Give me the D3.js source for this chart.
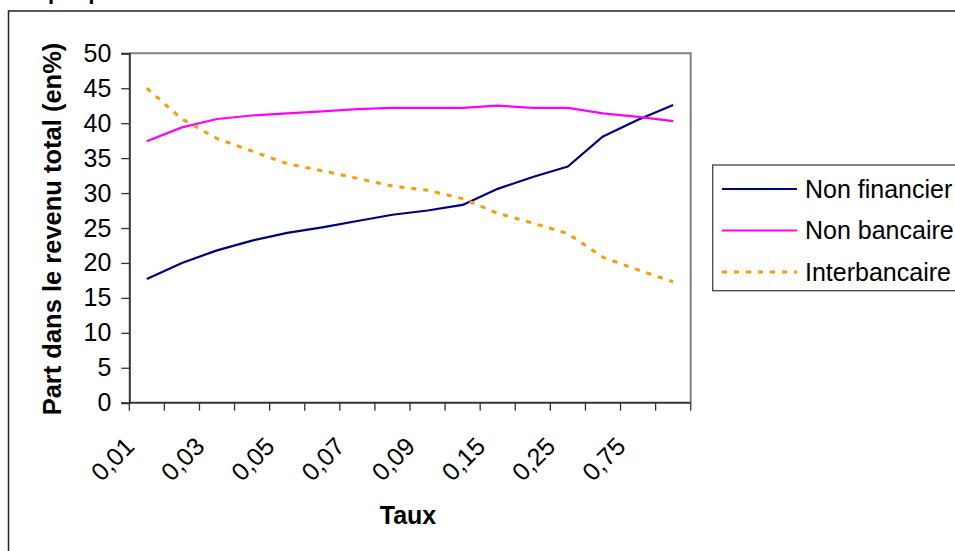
<!DOCTYPE html>
<html>
<head>
<meta charset="utf-8">
<script src="https://cdn.jsdelivr.net/npm/d3@7"></script>
<style>
  html, body { margin: 0; padding: 0; background: #fff; }
  svg { display: block; font-family: Arial, "Liberation Sans", sans-serif; }
</style>
</head>
<body>
<svg id="chart" width="955" height="551"></svg>
<script>
// ---- data ----
const categories = ["0,01","0,02","0,03","0,04","0,05","0,06","0,07","0,08","0,09","0,1","0,15","0,2","0,25","0,5","0,75","1"];
const tickLabels = ["0,01","0,03","0,05","0,07","0,09","0,15","0,25","0,75"];
const yTicks = [0,5,10,15,20,25,30,35,40,45,50];
const nonFinancier = [17.7,20.0,21.8,23.2,24.3,25.1,26.0,26.9,27.5,28.3,30.6,32.3,33.8,38.1,40.5,42.6];
const nonBancaire  = [37.4,39.4,40.6,41.1,41.4,41.7,42.0,42.2,42.2,42.2,42.5,42.2,42.2,41.4,40.9,40.3];
const interbancaire = [45.0,40.6,37.8,36.0,34.2,33.2,32.1,31.0,30.4,29.2,27.1,25.7,24.2,20.8,19.0,17.3];
const seriesNames = ["Non financier","Non bancaire","Interbancaire"];
const seriesColors = ["#000080","#FF00FF","#FF9900"];

const svg = d3.select("#chart");

// outer chart border
svg.append("rect").attr("x", 8.5).attr("y", 11).attr("width", 960).attr("height", 560)
  .attr("fill", "none").attr("stroke", "#222").attr("stroke-width", 1.5);
// cut-off heading above the chart
svg.append("text").attr("x", 10).attr("y", -1).attr("font-size", 22).attr("font-weight", "bold")
  .attr("fill", "#000").text("Graphique");

const L = 129.3, R = 690.7, T = 53.3, B = 402.7;
const x = d3.scaleBand().domain(categories).range([L, R]).paddingInner(0).paddingOuter(0);
const y = d3.scaleLinear().domain([0, 50]).range([B, T]);
const cx = c => x(c) + x.bandwidth() / 2;

// plot area border (top / right)
svg.append("path")
  .attr("d", `M${L},${T}H${R}V${B}`)
  .attr("fill", "none").attr("stroke", "#808080").attr("stroke-width", 2);

// y axis
const yAxis = d3.axisLeft(y).tickValues(yTicks).tickSize(8).tickPadding(10).tickFormat(d3.format("d"));
const gy = svg.append("g").attr("transform", `translate(${L},0)`).call(yAxis);
gy.select(".domain").attr("stroke", "#333").attr("stroke-width", 2);
gy.selectAll(".tick line").attr("stroke", "#333").attr("stroke-width", 1.3);
gy.selectAll(".tick text").attr("font-size", 25).attr("fill", "#000")
  .attr("font-family", "Arial, 'Liberation Sans', sans-serif");

// x axis line + ticks at band boundaries
const boundaries = categories.map(c => x(c)).concat([R]);
svg.append("line").attr("x1", L).attr("x2", R).attr("y1", B).attr("y2", B)
  .attr("stroke", "#333").attr("stroke-width", 2);
svg.append("g").selectAll("line").data(boundaries).join("line")
  .attr("x1", d => d).attr("x2", d => d).attr("y1", B).attr("y2", B + 8)
  .attr("stroke", "#333").attr("stroke-width", 1.3);

// x tick labels (rotated)
svg.append("g").selectAll("text").data(tickLabels).join("text")
  .attr("transform", d => `translate(${cx(d) - 11},448) rotate(-45)`)
  .attr("text-anchor", "end").attr("font-size", 25).attr("fill", "#000")
  .text(d => d);

// axis titles
svg.append("text").attr("x", 408).attr("y", 524).attr("text-anchor", "middle")
  .attr("font-size", 25).attr("font-weight", "bold").text("Taux");
svg.append("text").attr("transform", "translate(61,229) rotate(-90)").attr("text-anchor", "middle")
  .attr("font-size", 25.5).attr("font-weight", "bold").text("Part dans le revenu total (en%)");

// lines
const allSeries = [nonFinancier, nonBancaire, interbancaire];
const line = d3.line().x((d, i) => cx(categories[i])).y(d => y(d));
allSeries.forEach((s, k) => {
  svg.append("path").datum(s).attr("d", line)
    .attr("fill", "none").attr("stroke", seriesColors[k])
    .attr("stroke-width", k === 2 ? 3 : 2.2)
    .attr("stroke-dasharray", k === 2 ? "5,7" : null)
    .attr("stroke-linejoin", "round");
});

// legend
const lg = svg.append("g");
lg.append("rect").attr("x", 712.7).attr("y", 165).attr("width", 260).attr("height", 125.7)
  .attr("fill", "#fff").attr("stroke", "#444").attr("stroke-width", 1.3);
const ly = d3.scalePoint().domain(seriesNames).range([189, 272]);
seriesNames.forEach((n, k) => {
  lg.append("line").attr("x1", 722).attr("x2", 797).attr("y1", ly(n)).attr("y2", ly(n))
    .attr("stroke", seriesColors[k]).attr("stroke-width", k === 2 ? 3 : 2.2)
    .attr("stroke-dasharray", k === 2 ? "5,7" : null);
  lg.append("text").attr("x", 805).attr("y", ly(n)).attr("dy", "0.35em")
    .attr("font-size", 25).attr("fill", "#000").text(n);
});
</script>
</body>
</html>
